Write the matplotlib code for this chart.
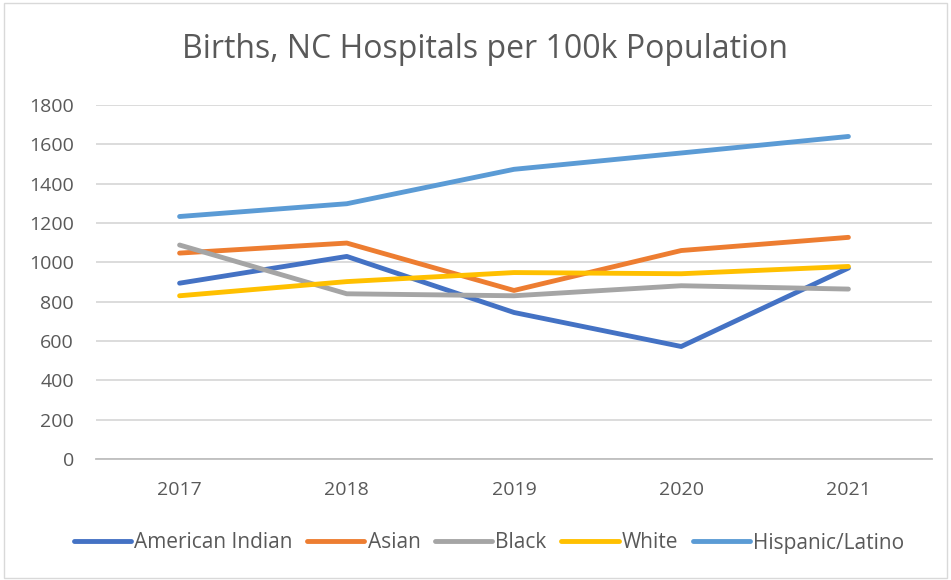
import matplotlib
matplotlib.use("Agg")
from matplotlib import pyplot as plt
from matplotlib.patches import Rectangle

# Data
years = ["2017", "2018", "2019", "2020", "2021"]
american_indian = [894, 1030, 745, 572, 971]
asian = [1047, 1098, 857, 1060, 1127]
black = [1088, 840, 830, 881, 864]
white = [830, 902, 948, 942, 979]
hispanic = [1233, 1298, 1473, 1556, 1640]

series = [
    ("American Indian", american_indian, "#4472C4"),
    ("Asian", asian, "#ED7D31"),
    ("Black", black, "#A5A5A5"),
    ("White", white, "#FFC000"),
    ("Hispanic/Latino", hispanic, "#5B9BD5"),
]

text_color = "#595959"
plt.rcParams["font.family"] = ["Open Sans", "DejaVu Sans"]

fig = plt.figure(figsize=(9.51, 5.8), dpi=100)
ax = fig.add_axes([96 / 951, 1 - 459 / 580, (932 - 96) / 951, (459 - 105) / 580])

x = range(len(years))
for name, vals, color in series:
    ax.plot(x, vals, color=color, linewidth=3.5, label=name, solid_capstyle="round")

ax.set_xlim(-0.5, len(years) - 0.5)
ax.set_ylim(0, 1800)
ax.set_yticks(range(0, 1801, 200))
ax.set_xticks(list(x))
ax.set_xticklabels(years)
ax.grid(axis="y", color="#D9D9D9", linewidth=1.3)
ax.set_axisbelow(True)
for s in ["top", "right", "left"]:
    ax.spines[s].set_visible(False)
ax.spines["bottom"].set_color("#BFBFBF")
ax.spines["bottom"].set_linewidth(1.3)
ax.tick_params(axis="both", length=0, labelsize=14, labelcolor=text_color)
ax.tick_params(axis="y", pad=16)
ax.tick_params(axis="x", pad=16)

fig.text(485 / 951, 1 - 50 / 580, "Births, NC Hospitals per 100k Population",
         ha="center", va="center", fontsize=23, color=text_color)

fig.legend(loc="center", bbox_to_anchor=(489 / 951, 1 - 543 / 580), ncol=5,
           frameon=False, fontsize=15, labelcolor=text_color, handlelength=2.75,
           handletextpad=0.15, columnspacing=0.7)

fig.patches.append(Rectangle((4 / 951, 2 / 580), 943 / 951, 575 / 580, transform=fig.transFigure,
                             fill=False, edgecolor="#D9D9D9", linewidth=1))

fig.savefig("out.png", dpi=100)
